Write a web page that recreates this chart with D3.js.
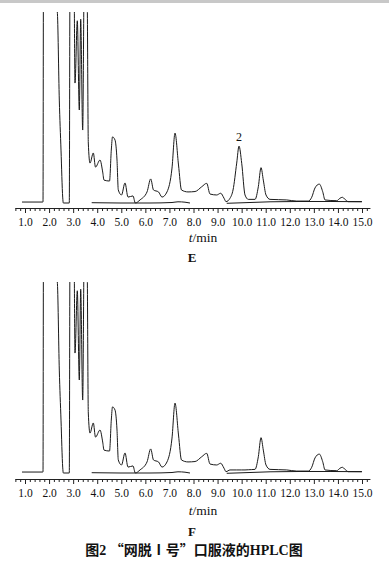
<!DOCTYPE html>
<html><head><meta charset="utf-8">
<script src="https://cdn.jsdelivr.net/npm/d3@7"></script>
<style>body{margin:0;background:#fff}</style>
</head><body>
<svg id="c" width="389" height="567"></svg>
<script>
// retention time (min)
const times = [0.875,1.727,1.748,1.769,2.342,2.425,2.496,2.566,2.591,2.840,2.870,3.034,3.077,3.173,3.256,3.314,3.397,3.459,3.576,3.630,3.700,3.838,3.929,4.116,4.228,4.282,4.511,4.585,4.635,4.739,4.822,4.876,5.009,5.155,5.279,5.487,5.582,5.778,6.069,6.222,6.339,6.546,6.692,6.899,7.107,7.232,7.377,7.502,7.772,8.063,8.341,8.549,8.686,8.964,9.130,9.268,9.351,9.517,9.642,9.795,9.891,10.003,10.140,10.277,10.556,10.693,10.805,10.900,11.012,11.179,11.873,12.288,12.770,12.911,13.048,13.227,13.368,13.464,13.950,14.087,14.183,14.295,14.432,14.989];
// detector response, chromatogram E
const signalE = [0.5,0.5,0.5,130,100,53.9,27.7,3.1,0,0,120,120,62.8,95.4,48.7,96.2,38.2,115,115,31.4,20.9,26.2,18.8,22.5,16.2,12.0,11.5,27.7,34.6,33.0,22.5,6.8,4.2,10.5,3.1,3.7,0,1.6,5.8,12.6,6.8,5.8,3.1,5.8,18.3,36.6,19.9,6.8,5.8,6.0,8.5,10.3,4.7,4.2,5.1,2.5,0.7,2.5,6.8,20.9,29.8,20.8,4.2,1.9,1.9,8.5,18.5,12.0,4.2,1.9,1.6,1.0,1.0,3.0,7.9,9.9,5.9,1.6,1.2,2.5,3.0,1.9,0.7,0.7];
// detector response, chromatogram F (no peak 2)
const signalF = [0.5,0.5,0.5,130,100,53.9,27.7,3.1,0,0,120,120,62.8,95.4,48.7,96.2,38.2,115,115,31.4,20.9,26.2,18.8,22.5,16.2,12.0,11.5,27.7,34.6,33.0,22.5,6.8,4.2,10.5,3.1,3.7,0,1.6,5.8,12.6,6.8,5.8,3.1,5.8,18.3,36.6,19.9,6.8,5.8,6.0,8.5,10.3,4.7,4.2,5.1,2.5,0.7,1.6,1.6,1.6,1.6,1.6,1.6,1.7,1.9,8.5,18.5,12.0,4.2,1.9,1.6,1.0,1.0,3.0,7.9,9.9,5.9,1.6,1.2,2.5,3.0,1.9,0.7,0.7];
// baseline segments
const baseTimesA = [3.771,4.947,6.193,7.107,7.356,7.647,7.854];
const baseValsA = [0.16,0,0,0.26,0.63,0.42,0];
const baseTimesB = [9.380,10.347,11.179,12.425,13.672,15.001];
const baseValsB = [-0.16,0.26,0.63,0.79,0.79,0.68];
const majorTicks = [1,2,3,4,5,6,7,8,9,10,11,12,13,14,15];
const tickLabels = ["1.0","2.0","3.0","4.0","5.0","6.0","7.0","8.0","9.0","10.0","11.0","12.0","13.0","14.0","15.0"];
const peakLabels = [{t:9.891, v:29.8, text:"2"}];
const axisTitle = "min";
const caption = "图2 “网脱Ⅰ号”口服液的HPLC图";

const svg = d3.select("#c");
svg.append("rect").attr("x",0).attr("y",0).attr("width",389).attr("height",3).attr("fill","#c8c8c8");

const x = d3.scaleLinear().domain([1,15]).range([25,362]);
const tMin = 0.585, tMax = 15.33;
const xAxisScale = d3.scaleLinear().domain([tMin,tMax]).range([x(tMin), x(tMax)]);
const minorTicks = d3.range(0.6, 15.25, 0.2).map(d => +d.toFixed(1)).filter(d => Math.abs(d - Math.round(d)) > 1e-6);

const panels = [
  {name:"E", vals:signalE, base:203, axisY:208, unitY:237, nameY:257, labels:peakLabels},
  {name:"F", vals:signalF, base:473, axisY:479, unitY:510, nameY:531, labels:[]}
];

panels.forEach((p, i) => {
  const y = d3.scaleLinear().domain([0,100]).range([p.base, p.base - 191]);
  const clipId = "clip" + i;
  svg.append("clipPath").attr("id", clipId).append("rect")
    .attr("x", 0).attr("y", y(100)).attr("width", 389).attr("height", 200);
  const g = svg.append("g").attr("clip-path", `url(#${clipId})`);
  const line = d3.line().x(d => x(d[0])).y(d => y(d[1])).curve(d3.curveMonotoneX);
  const style = sel => sel.attr("fill","none").attr("stroke","#1a1a1a").attr("stroke-width",1).attr("stroke-linejoin","round");
  g.append("path").datum(d3.zip(baseTimesA, baseValsA)).attr("d", line).call(style);
  g.append("path").datum(d3.zip(baseTimesB, baseValsB)).attr("d", line).call(style);
  g.append("path").datum(d3.zip(times, p.vals)).attr("d", line).call(style);

  p.labels.forEach(l => {
    svg.append("text").attr("x", x(l.t)).attr("y", y(l.v) - 5)
      .attr("text-anchor","middle").attr("font-family","Liberation Serif").attr("font-size",12)
      .attr("fill","#111").text(l.text);
  });

  // minor ticks axis (also draws domain line)
  const minor = svg.append("g").attr("transform", `translate(0,${p.axisY})`)
    .call(d3.axisBottom(xAxisScale).tickValues(minorTicks).tickSize(3).tickSizeOuter(0).tickFormat(""));
  const major = svg.append("g").attr("transform", `translate(0,${p.axisY})`)
    .call(d3.axisBottom(xAxisScale).tickValues(majorTicks).tickSize(5).tickSizeOuter(0).tickPadding(5)
      .tickFormat((d, k) => tickLabels[k]));
  [minor, major].forEach(a => {
    a.selectAll("path,line").attr("stroke","#222").attr("stroke-width",1);
    a.selectAll("text").attr("font-family","Liberation Serif").attr("font-size",11.5).attr("fill","#111");
  });
  major.select(".domain").remove();

  const ut = svg.append("text").attr("x", 203).attr("y", p.unitY).attr("dy","0.35em")
    .attr("text-anchor","middle").attr("font-family","Liberation Serif").attr("font-size",13.5).attr("fill","#111");
  ut.append("tspan").attr("font-style","italic").text("t");
  ut.append("tspan").text("/" + axisTitle);

  svg.append("text").attr("x", 192).attr("y", p.nameY).attr("dy","0.35em")
    .attr("text-anchor","middle").attr("font-family","Liberation Serif").attr("font-weight","bold")
    .attr("font-size",13).attr("fill","#111").text(p.name);
});

const cap = svg.append("text").attr("x", 194).attr("y", 550).attr("dy","0.35em")
  .attr("text-anchor","middle").attr("font-weight","bold").attr("font-size",14).attr("fill","#111")
  .attr("font-family","'Liberation Serif','Noto Sans CJK SC'");
const parts = [["图","cjk"],["2 ","lat"],["“网脱Ⅰ号”口服液的","cjk"],["HPLC","lat"],["图","cjk"]];
parts.forEach(([s, k]) => {
  cap.append("tspan").attr("font-family", k === "cjk" ? "'Noto Sans CJK SC'" : "'Liberation Serif'").text(s);
});
</script>
</body></html>
